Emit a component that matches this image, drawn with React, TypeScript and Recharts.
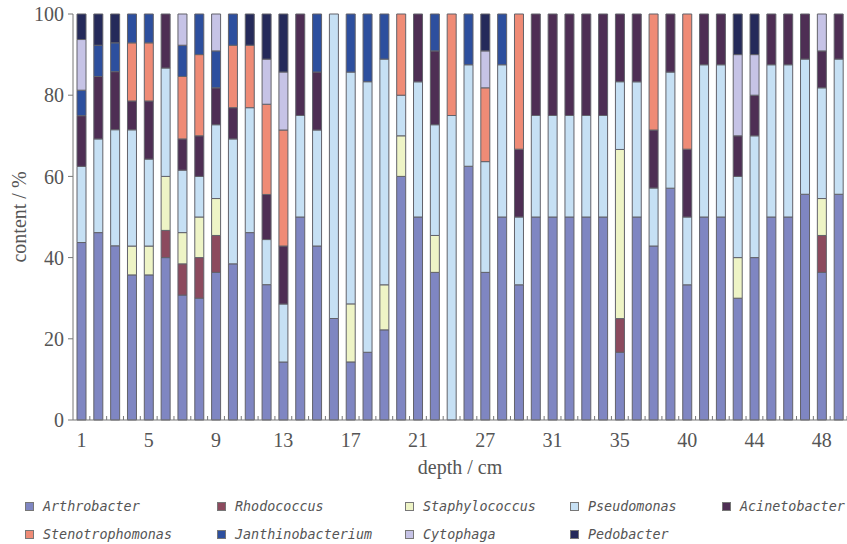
import { BarChart, Bar, XAxis, YAxis, Legend } from 'recharts';

const depths = [
  '1', '2', '3', '4', '5', '6', '7', '8', '9', '10', '11', '12', '13', '14', '15', '16',
  '17', '18', '19', '20', '21', '23', '24', '25', '27', '28', '29', '30', '31', '32', '33', '34',
  '35', '36', '38', '39', '40', '41', '42', '43', '44', '45', '46', '47', '48', '49',
];

const arthrobacter = [
  43.8, 46.2, 42.9, 35.7, 35.7, 40.0, 30.8, 30.0, 36.4, 38.5, 46.2, 33.3, 14.3, 50.0, 42.9, 25.0,
  14.3, 16.7, 22.2, 60.0, 50.0, 36.4, 0, 62.5, 36.4, 50.0, 33.3, 50.0, 50.0, 50.0, 50.0, 50.0,
  16.7, 50.0, 42.9, 57.1, 33.3, 50.0, 50.0, 30.0, 40.0, 50.0, 50.0, 55.6, 36.4, 55.6,
];
const rhodococcus = [
  0, 0, 0, 0, 0, 6.7, 7.7, 10.0, 9.1, 0, 0, 0, 0, 0, 0, 0,
  0, 0, 0, 0, 0, 0, 0, 0, 0, 0, 0, 0, 0, 0, 0, 0,
  8.3, 0, 0, 0, 0, 0, 0, 0, 0, 0, 0, 0, 9.1, 0,
];
const staphylococcus = [
  0, 0, 0, 7.1, 7.1, 13.3, 7.7, 10.0, 9.1, 0, 0, 0, 0, 0, 0, 0,
  14.3, 0, 11.1, 10.0, 0, 9.1, 0, 0, 0, 0, 0, 0, 0, 0, 0, 0,
  41.7, 0, 0, 0, 0, 0, 0, 10.0, 0, 0, 0, 0, 9.1, 0,
];
const pseudomonas = [
  18.8, 23.1, 28.6, 28.6, 21.4, 26.7, 15.4, 10.0, 18.2, 30.8, 30.8, 11.1, 14.3, 25.0, 28.6, 75.0,
  57.1, 66.7, 55.6, 10.0, 33.3, 27.3, 75.0, 25.0, 27.3, 37.5, 16.7, 25.0, 25.0, 25.0, 25.0, 25.0,
  16.7, 33.3, 14.3, 28.6, 16.7, 37.5, 37.5, 20.0, 30.0, 37.5, 37.5, 33.3, 27.3, 33.3,
];
const acinetobacter = [
  12.5, 15.4, 14.3, 7.1, 14.3, 13.3, 7.7, 10.0, 9.1, 7.7, 0, 11.1, 14.3, 25.0, 14.3, 0,
  0, 0, 0, 0, 16.7, 18.2, 0, 0, 0, 0, 16.7, 25.0, 25.0, 25.0, 25.0, 25.0,
  16.7, 16.7, 14.3, 14.3, 16.7, 12.5, 12.5, 10.0, 10.0, 12.5, 12.5, 11.1, 9.1, 11.1,
];
const stenotrophomonas = [
  0, 0, 0, 14.3, 14.3, 0, 15.4, 20.0, 0, 15.4, 15.4, 22.2, 28.6, 0, 0, 0,
  0, 0, 0, 20.0, 0, 0, 25.0, 0, 18.2, 0, 33.3, 0, 0, 0, 0, 0,
  0, 0, 28.6, 0, 33.3, 0, 0, 0, 0, 0, 0, 0, 0, 0,
];
const janthinobacterium = [
  6.3, 7.7, 7.1, 7.1, 7.1, 0, 7.7, 10.0, 9.1, 7.7, 0, 0, 0, 0, 14.3, 0,
  14.3, 16.7, 11.1, 0, 0, 9.1, 0, 12.5, 0, 12.5, 0, 0, 0, 0, 0, 0,
  0, 0, 0, 0, 0, 0, 0, 0, 0, 0, 0, 0, 0, 0,
];
const cytophaga = [
  12.5, 0, 0, 0, 0, 0, 7.7, 0, 9.1, 0, 0, 11.1, 14.3, 0, 0, 0,
  0, 0, 0, 0, 0, 0, 0, 0, 9.1, 0, 0, 0, 0, 0, 0, 0,
  0, 0, 0, 0, 0, 0, 0, 20.0, 10.0, 0, 0, 0, 9.1, 0,
];
const pedobacter = [
  6.3, 7.7, 7.1, 0, 0, 0, 0, 0, 0, 0, 7.7, 11.1, 14.3, 0, 0, 0,
  0, 0, 0, 0, 0, 0, 0, 0, 9.1, 0, 0, 0, 0, 0, 0, 0,
  0, 0, 0, 0, 0, 0, 0, 10.0, 10.0, 0, 0, 0, 0, 0,
];

const yTicks = [0, 0.2, 0.4, 0.6, 0.8, 1];

const series = [
  { key: 'Arthrobacter', values: arthrobacter, color: '#7f86c2' },
  { key: 'Rhodococcus', values: rhodococcus, color: '#8c4a5e' },
  { key: 'Staphylococcus', values: staphylococcus, color: '#eef4c6' },
  { key: 'Pseudomonas', values: pseudomonas, color: '#c6e0f4' },
  { key: 'Acinetobacter', values: acinetobacter, color: '#4e2e54' },
  { key: 'Stenotrophomonas', values: stenotrophomonas, color: '#ef8b76' },
  { key: 'Janthinobacterium', values: janthinobacterium, color: '#2d4f9e' },
  { key: 'Cytophaga', values: cytophaga, color: '#c6c3e6' },
  { key: 'Pedobacter', values: pedobacter, color: '#252a5a' },
];

const data = depths.map((d, i) => {
  const row: Record<string, string | number> = { depth: d };
  series.forEach((s) => { row[s.key] = s.values[i]; });
  return row;
});

const SERIF = '"Liberation Serif", "Times New Roman", serif';
const BAND = 774 / depths.length;

// legend columns, as laid out in the original figure
const legendCols = [25, 217, 405, 570, 722];

const XTick = (props: any) => {
  const { x, y, index, payload } = props;
  return (
    <g>
      <line x1={x + BAND / 2} x2={x + BAND / 2} y1={y} y2={y - 4} stroke="#777" />
      {index % 4 === 0 && (
        <text x={x} y={y + 27} textAnchor="middle" fill="#555" fontSize={20} fontFamily={SERIF}>
          {payload.value}
        </text>
      )}
    </g>
  );
};

const renderLegend = () => (
  <div style={{ position: 'relative', width: 847, height: 64 }}>
    {series.map((s, i) => (
      <div
        key={s.key}
        style={{
          position: 'absolute',
          left: legendCols[i % 5],
          top: i < 5 ? 19 : 47,
          display: 'flex',
          alignItems: 'center',
          fontFamily: '"DejaVu Sans Mono", monospace',
          fontStyle: 'italic',
          fontSize: 13.4,
          color: '#555',
          whiteSpace: 'nowrap',
        }}
      >
        <span
          style={{
            display: 'inline-block',
            width: 7,
            height: 7,
            background: s.color,
            border: '1px solid #777',
            marginRight: 9,
          }}
        />
        {s.key}
      </div>
    ))}
  </div>
);

export default function App() {
  return (
    <div style={{ position: 'absolute', left: 0, top: 0, width: 847, height: 544, background: '#fff' }}>
      <BarChart
        width={847}
        height={544}
        data={data}
        stackOffset="expand"
        barSize={9}
        margin={{ top: 14, right: 0, left: 0, bottom: 0 }}
      >
        <XAxis
          dataKey="depth"
          interval={0}
          tickSize={0}
          tickMargin={0}
          tick={<XTick />}
          height={60}
          stroke="#777"
          label={{
            value: 'depth / cm',
            position: 'insideBottom',
            offset: 6,
            fill: '#555',
            fontSize: 20,
            fontFamily: SERIF,
          }}
        />
        <YAxis
          width={73}
          domain={[0, 1]}
          ticks={yTicks}
          tickFormatter={(v: number) => `${Math.round(v * 100)}`}
          tickSize={5}
          tickMargin={4}
          stroke="#777"
          tick={{ fill: '#555', fontSize: 20, fontFamily: SERIF }}
          label={{
            content: () => (
              <text
                transform="translate(26,217) rotate(-90)"
                textAnchor="middle"
                fill="#555"
                fontSize={20}
                fontFamily={SERIF}
              >
                content / %
              </text>
            ),
          }}
        />
        <Legend verticalAlign="bottom" content={renderLegend} wrapperStyle={{ height: 64, left: 0, width: 847 }} />
        {series.map((s) => (
          <Bar
            key={s.key}
            dataKey={s.key}
            stackId="a"
            fill={s.color}
            stroke="#62626a"
            strokeWidth={1}
            isAnimationActive={false}
          />
        ))}
      </BarChart>
    </div>
  );
}
